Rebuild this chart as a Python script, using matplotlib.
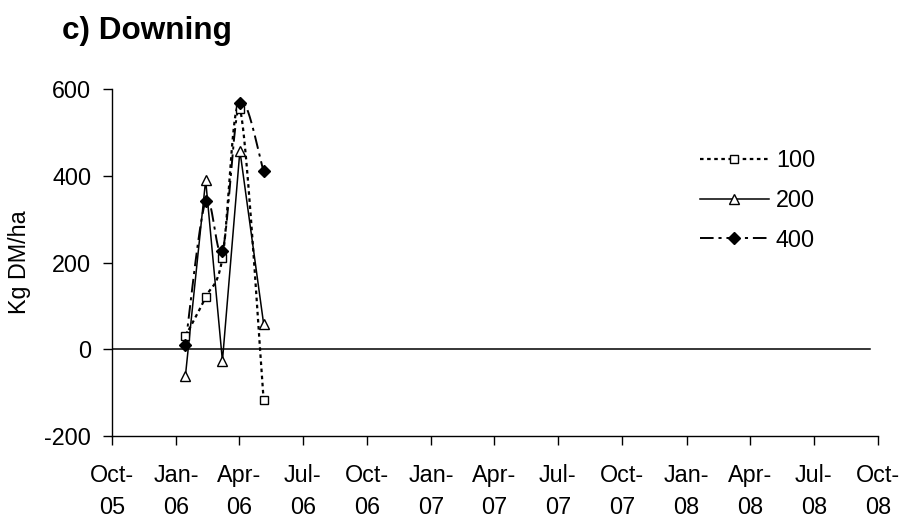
import numpy as np
import matplotlib
matplotlib.use("Agg")
import matplotlib.pyplot as plt
import matplotlib.dates as mdates
from matplotlib.lines import Line2D
from datetime import date

# Sampling dates and herbage accumulation (kg DM/ha) for each N rate
sample_dates = ["2006-01-14", "2006-02-12", "2006-03-08", "2006-04-02", "2006-05-06"]
rate_100 = [30, 120, 210, 555, -117]
rate_200 = [-62, 390, -27, 458, 58]
rate_400 = [10, 342, 227, 568, 410]
series_names = ["100", "200", "400"]

y_ticks = [-200, 0, 200, 400, 600]
y_tick_labels = ["-200", "0", "200", "400", "600"]
x_tick_dates = ["2005-10-01", "2006-01-01", "2006-04-01", "2006-07-01",
                "2006-10-01", "2007-01-01", "2007-04-01", "2007-07-01",
                "2007-10-01", "2008-01-01", "2008-04-01", "2008-07-01",
                "2008-10-01"]
x_tick_labels = ["Oct-\n05", "Jan-\n06", "Apr-\n06", "Jul-\n06",
                 "Oct-\n06", "Jan-\n07", "Apr-\n07", "Jul-\n07",
                 "Oct-\n07", "Jan-\n08", "Apr-\n08", "Jul-\n08",
                 "Oct-\n08"]

plt.rcParams["font.family"] = ["Liberation Sans", "DejaVu Sans"]
FS = 16.8


def to_num(ds):
    return np.array([mdates.date2num(date.fromisoformat(d)) for d in ds])


def smooth(x, y, n=40):
    """Cardinal (Catmull-Rom style) Bezier smoothing through the points."""
    p = np.column_stack([x, y]).astype(float)
    ext = np.vstack([p[0], p, p[-1]])
    out = []
    t = np.linspace(0, 1, n)[:, None]
    for i in range(len(p) - 1):
        p0, p1 = ext[i + 1], ext[i + 2]
        c1 = p0 + (ext[i + 2] - ext[i]) / 6.0
        c2 = p1 - (ext[i + 3] - ext[i + 1]) / 6.0
        seg = ((1 - t) ** 3) * p0 + 3 * ((1 - t) ** 2) * t * c1 \
            + 3 * (1 - t) * t ** 2 * c2 + t ** 3 * p1
        out.append(seg if i == 0 else seg[1:])
    out = np.vstack(out)
    return out[:, 0], out[:, 1]


W, H = 905, 518
fig = plt.figure(figsize=(W / 100, H / 100), dpi=100)
left, right, top, bottom = 112, 878, 89, 436
ax = fig.add_axes([left / W, 1 - bottom / H, (right - left) / W, (bottom - top) / H])

xd = to_num(sample_dates)
xt = to_num(x_tick_dates)

styles = [
    dict(ls=(0, (1.6, 1.6)), lw=1.6, marker="s", ms=5.5, mfc="white", mec="black", mew=1.0, smooth=True),
    dict(ls="-", lw=1.1, marker="^", ms=7.5, mfc="white", mec="black", mew=1.0, smooth=False),
    dict(ls=(0, (7, 2.5, 1.6, 2.5)), lw=1.4, marker="D", ms=6.5, mfc="black", mec="black", mew=1.0, smooth=True),
]
values = [rate_100, rate_200, rate_400]

# zero reference line
ax.axhline(0, xmin=0, xmax=(870 - left) / (right - left), color="black", lw=1.1, zorder=1)

handles = []
for name, vals, st in zip(series_names, values, styles):
    if st["smooth"]:
        sx, sy = smooth(xd, vals)
    else:
        sx, sy = xd, np.array(vals)
    ax.plot(sx, sy, color="black", ls=st["ls"], lw=st["lw"], zorder=2)
    ax.plot(xd, vals, ls="none", marker=st["marker"], ms=st["ms"],
            mfc=st["mfc"], mec=st["mec"], mew=st["mew"], zorder=3)
    handles.append(Line2D([], [], color="black", ls=st["ls"], lw=st["lw"],
                          marker=st["marker"], ms=st["ms"], mfc=st["mfc"],
                          mec=st["mec"], mew=st["mew"], label=name))

ax.set_xlim(xt[0], xt[-1])
ax.set_ylim(-200, 600)
ax.set_yticks(y_ticks)
ax.set_yticklabels(y_tick_labels)
ax.set_xticks(xt)
ax.set_xticklabels(x_tick_labels, linespacing=1.5)

for s in ["top", "right"]:
    ax.spines[s].set_visible(False)
for s in ["left", "bottom"]:
    ax.spines[s].set_linewidth(1.0)

ax.tick_params(axis="both", direction="out", length=6.5, width=1.0, labelsize=FS, pad=8.5)
ax.tick_params(axis="x", pad=14)
ax.set_ylabel("Kg DM/ha", fontsize=FS, labelpad=9.5)

leg = fig.legend(handles=handles, loc="upper left",
                 bbox_to_anchor=(700 / W, 1 - 149 / H), frameon=False,
                 fontsize=FS, handlelength=2.95, handletextpad=0.3,
                 labelspacing=0.72, borderpad=0, borderaxespad=0)

fig.text(62 / W, 1 - 39 / H, "c) Downing", fontsize=22.7, fontweight="bold",
         ha="left", va="baseline")

fig.savefig("out.png", dpi=100)
